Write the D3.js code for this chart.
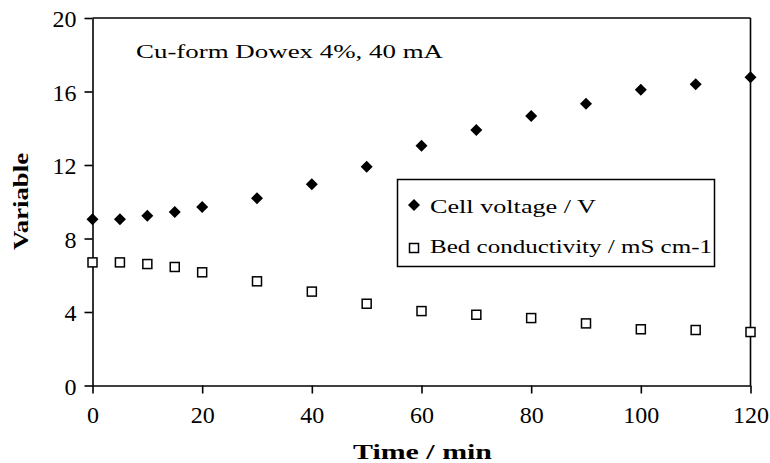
<!DOCTYPE html>
<html>
<head>
<meta charset="utf-8">
<script src="https://cdn.jsdelivr.net/npm/d3@7"></script>
<style>
  body { margin: 0; background: #fff; }
  svg text { font-family: "Liberation Serif", "Times New Roman", Times, serif; fill: #000; }
</style>
</head>
<body>
<svg id="chart" width="770" height="463"></svg>
<script>
// time points (min)
const times = [0, 5, 10, 15, 20, 30, 40, 50, 60, 70, 80, 90, 100, 110, 120];
// cell voltage / V
const voltage = [9.05, 9.05, 9.24, 9.44, 9.71, 10.19, 10.95, 11.91, 13.05, 13.9, 14.67, 15.34, 16.1, 16.39, 16.77];
// bed conductivity / mS cm-1
const conductivity = [6.7, 6.7, 6.61, 6.45, 6.16, 5.67, 5.11, 4.45, 4.05, 3.85, 3.67, 3.38, 3.06, 3.02, 2.91];
const xTicks = [0, 20, 40, 60, 80, 100, 120];
const yTicks = [0, 4, 8, 12, 16, 20];
const seriesNames = ["Cell voltage / V", "Bed conductivity / mS cm-1"];
const note = "Cu-form Dowex 4%, 40 mA";

const FONT = '"Liberation Serif", "Times New Roman", Times, serif';
const svg = d3.select("#chart");
const margin = {left: 92.5, right: 19.5, top: 18, bottom: 77.5};
const width = 770, height = 463;

const x = d3.scaleLinear().domain([0, 120]).range([margin.left, width - margin.right]);
const y = d3.scaleLinear().domain([0, 20]).range([height - margin.bottom, margin.top]);

// frame: top and right lines
svg.append("line")
    .attr("x1", x(0)).attr("x2", x(120)).attr("y1", y(20)).attr("y2", y(20))
    .attr("stroke", "#000").attr("stroke-width", 1.6);
svg.append("line")
    .attr("x1", x(120)).attr("x2", x(120)).attr("y1", y(20)).attr("y2", y(0))
    .attr("stroke", "#000").attr("stroke-width", 1.6);

// axes
let xAxis = svg.append("g")
    .attr("transform", `translate(0,${y(0)})`)
    .call(d3.axisBottom(x).tickValues(xTicks).tickSizeInner(8).tickSizeOuter(0).tickPadding(12));
let yAxis = svg.append("g")
    .attr("transform", `translate(${x(0)},0)`)
    .call(d3.axisLeft(y).tickValues(yTicks).tickSizeInner(8).tickSizeOuter(0).tickPadding(8));

[xAxis, yAxis].forEach(a => {
    a.attr("font-family", FONT);
    a.select(".domain").attr("stroke", "#000").attr("stroke-width", 1.6);
    a.selectAll(".tick line").attr("stroke", "#000").attr("stroke-width", 1.6);
    a.selectAll(".tick text")
        .attr("font-size", 24).attr("fill", "#000");
});
yAxis.selectAll(".tick text").attr("dy", "0.36em");

// axis titles
svg.append("text")
    .attr("x", (x(0) + x(120)) / 2 + 1).attr("y", 459)
    .attr("text-anchor", "middle")
    .attr("font-size", 21).attr("font-weight", "bold")
    .attr("textLength", 139).attr("lengthAdjust", "spacingAndGlyphs")
    .text("Time / min");
svg.append("text")
    .attr("transform", `translate(28,${(153 + 250) / 2}) rotate(-90)`)
    .attr("text-anchor", "middle")
    .attr("font-size", 21).attr("font-weight", "bold")
    .attr("textLength", 97).attr("lengthAdjust", "spacingAndGlyphs")
    .text("Variable");

// annotation
svg.append("text")
    .attr("x", 136).attr("y", 58)
    .attr("font-size", 19)
    .attr("textLength", 307).attr("lengthAdjust", "spacingAndGlyphs")
    .text(note);

const diamond = "M0,-6L6,0L0,6L-6,0Z";

// series
const vData = times.map((t, i) => ({t: t, v: voltage[i]}));
const cData = times.map((t, i) => ({t: t, v: conductivity[i]}));

svg.append("g").selectAll("path").data(vData).join("path")
    .attr("d", diamond)
    .attr("transform", d => `translate(${x(d.t)},${y(d.v)})`)
    .attr("fill", "#000");

svg.append("g").selectAll("rect").data(cData).join("rect")
    .attr("x", d => x(d.t) - 4.5).attr("y", d => y(d.v) - 4.5)
    .attr("width", 9).attr("height", 9)
    .attr("fill", "#fff").attr("stroke", "#000").attr("stroke-width", 1.5);

// legend
let legend = svg.append("g");
legend.append("rect")
    .attr("x", 397.5).attr("y", 179.5).attr("width", 317).attr("height", 87)
    .attr("fill", "#fff").attr("stroke", "#000").attr("stroke-width", 1.5);
legend.append("path")
    .attr("d", diamond)
    .attr("transform", "translate(414,205)")
    .attr("fill", "#000");
legend.append("rect")
    .attr("x", 409.5).attr("y", 243.5).attr("width", 9).attr("height", 9)
    .attr("fill", "#fff").attr("stroke", "#000").attr("stroke-width", 1.5);
legend.append("text")
    .attr("x", 430).attr("y", 213)
    .attr("font-size", 19)
    .attr("textLength", 166).attr("lengthAdjust", "spacingAndGlyphs")
    .text(seriesNames[0]);
legend.append("text")
    .attr("x", 430).attr("y", 253)
    .attr("font-size", 19)
    .attr("textLength", 282).attr("lengthAdjust", "spacingAndGlyphs")
    .text(seriesNames[1]);
</script>
</body>
</html>
